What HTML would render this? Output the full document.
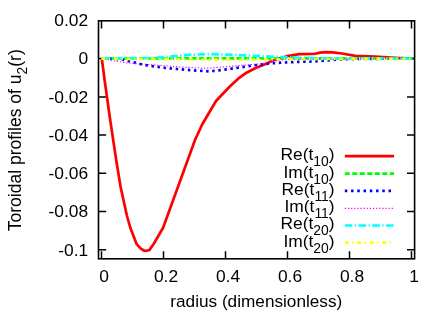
<!DOCTYPE html>
<html><head><meta charset="utf-8">
<style>
html,body{margin:0;padding:0;background:#fff;}
body{width:444px;height:311px;overflow:hidden;}
svg{display:block;}
.txt{filter:grayscale(1);}
text{font-family:"Liberation Sans",sans-serif;font-size:17.4px;fill:#000;}
.sub{font-size:13.9px;}
</style></head><body>
<svg width="444" height="311" viewBox="0 0 444 311">
<rect width="444" height="311" fill="#fff"/>
<!-- ticks -->
<g fill="none" stroke="#000" stroke-width="1.5" stroke-linecap="butt">
<path d="M101.5,258.8v-7.6M163.5,258.8v-7.6M225.5,258.8v-7.6M287.5,258.8v-7.6M349.5,258.8v-7.6M411.5,258.8v-7.6"/>
<path d="M101.5,20.8v7.6M163.5,20.8v7.6M225.5,20.8v7.6M287.5,20.8v7.6M349.5,20.8v7.6M411.5,20.8v7.6"/>
<path d="M98.6,58.6h7.6M98.6,96.9h7.6M98.6,135.1h7.6M98.6,173.3h7.6M98.6,211.5h7.6M98.6,249.8h7.6"/>
<path d="M414.6,58.6h-7.6M414.6,96.9h-7.6M414.6,135.1h-7.6M414.6,173.3h-7.6M414.6,211.5h-7.6M414.6,249.8h-7.6"/>
</g>
<!-- curves -->
<g fill="none" stroke-linejoin="round" stroke-linecap="butt">
<polyline stroke="#ff0000" stroke-width="2.7" points="101.8,58.8 104.6,80 110.2,120 116.2,160 120.6,187 127,216 130.4,228 136.7,244.2 140.8,248.7 144.8,251 149.3,250.1 153.8,243.8 163.1,227.8 195,140 202.3,124.2 216,101 229.3,87 239.2,77.8 245.5,73.3 255.6,68 265,64.3 273.3,60.2 287,56.2 299.2,54.2 314,54 320,52.6 325.8,52.2 332.6,52.3 342,53.5 355.5,55.9 375,56.5 395,57.8 413.2,58.6"/>
<polyline stroke="#00ff00" stroke-width="2.7" stroke-dasharray="5 2.5" points="101.5,58.3 413.2,58.3"/>
<polyline stroke="#0000ff" stroke-width="2.7" stroke-dasharray="2.5 3.6" stroke-dashoffset="4.15" points="101.5,58.6 112,58.8 118,59.1 123,59.6 129,61.3 135.2,62.6 141.3,64.3 147.4,65.4 153.4,66.3 165,67.9 177.7,69 190,70.1 202,70.9 208.8,71.3 215,70.8 221,70.1 227.3,69.3 233.4,68.3 239.5,67.6 245.5,66.6 251.6,65.6 257.7,64.9 263.8,64.3 269.5,63.4 276.2,63 288.4,62.3 300.5,61.8 312.7,61.5 319,61 325,60.7 331,60 340,59.3 360,58.9 413.4,58.6"/>
<polyline stroke="#ff00ff" stroke-width="1.15" stroke-dasharray="1.25 1.875" points="101.5,58.6 109.5,60 127,63 150,64.6 180,67 205,68.3 225,66.8 245.5,65 259,64 275,61.2 285,59.6 300,59.2 413.2,58.8"/>
<polyline stroke="#00ffff" stroke-width="2.7" stroke-dasharray="7.5 2.5 1.25 2.5" points="101.5,58.4 150,58 165,57.2 175,56 187.8,54.8 210,54.1 230,54.6 265,56.4 290,57.4 320,58.3 413.2,58.6"/>
<polyline stroke="#ffff00" stroke-width="2.7" stroke-dasharray="3.75 3.75 1.25 3.75" points="101.5,58.7 160,59 200,59.5 240,59.8 280,59.4 320,59 413.2,58.8"/>
</g>
<!-- legend samples -->
<g fill="none" stroke-linecap="butt">
<line x1="344.8" x2="394.1" y1="156.2" y2="156.2" stroke="#ff0000" stroke-width="2.7"/>
<line x1="344.8" x2="394.1" y1="173.6" y2="173.6" stroke="#00ff00" stroke-width="2.7" stroke-dasharray="5 2.5"/>
<line x1="344.8" x2="394.1" y1="190.9" y2="190.9" stroke="#0000ff" stroke-width="2.7" stroke-dasharray="2.5 3.75"/>
<line x1="344.8" x2="394.1" y1="208.3" y2="208.3" stroke="#ff00ff" stroke-width="1.15" stroke-dasharray="1.25 1.875"/>
<line x1="344.8" x2="394.1" y1="225.5" y2="225.5" stroke="#00ffff" stroke-width="2.7" stroke-dasharray="7.5 2.5 1.25 2.5"/>
<line x1="344.8" x2="394.1" y1="242.7" y2="242.7" stroke="#ffff00" stroke-width="2.7" stroke-dasharray="3.75 3.75 1.25 3.75"/>
</g>
<!-- border -->
<rect x="98.5" y="20.8" width="316.1" height="238" fill="none" stroke="#000" stroke-width="1.6"/>
<g class="txt">
<!-- y tick labels -->
<g text-anchor="end">
<text x="88.2" y="26.4">0.02</text>
<text x="88.2" y="64.4">0</text>
<text x="88.2" y="102.6">-0.02</text>
<text x="88.2" y="140.8">-0.04</text>
<text x="88.2" y="179.0">-0.06</text>
<text x="88.2" y="217.2">-0.08</text>
<text x="88.2" y="255.5">-0.1</text>
</g>
<!-- x tick labels -->
<g text-anchor="middle">
<text x="104.2" y="282.1">0</text>
<text x="166" y="282.1">0.2</text>
<text x="228" y="282.1">0.4</text>
<text x="290" y="282.1">0.6</text>
<text x="352" y="282.1">0.8</text>
<text x="414" y="282.1">1</text>
</g>
<text x="256.3" y="307.3" text-anchor="middle" style="font-size:17.2px">radius (dimensionless)</text>
<text transform="translate(21.4,140.3) rotate(-90)" text-anchor="middle" style="font-size:17.55px">Toroidal profiles of u<tspan class="sub" dy="6">2</tspan><tspan dy="-6">(r)</tspan></text>
<!-- legend labels -->
<g text-anchor="end">
<text x="334.6" y="160.2">Re(t<tspan class="sub" dy="6">10</tspan><tspan dy="-6">)</tspan></text>
<text x="334.6" y="177.5">Im(t<tspan class="sub" dy="6">10</tspan><tspan dy="-6">)</tspan></text>
<text x="334.6" y="194.8">Re(t<tspan class="sub" dy="6">11</tspan><tspan dy="-6">)</tspan></text>
<text x="334.6" y="212.1">Im(t<tspan class="sub" dy="6">11</tspan><tspan dy="-6">)</tspan></text>
<text x="334.6" y="229.4">Re(t<tspan class="sub" dy="6">20</tspan><tspan dy="-6">)</tspan></text>
<text x="334.6" y="246.7">Im(t<tspan class="sub" dy="6">20</tspan><tspan dy="-6">)</tspan></text>
</g>
</g>
</svg>
</body></html>
